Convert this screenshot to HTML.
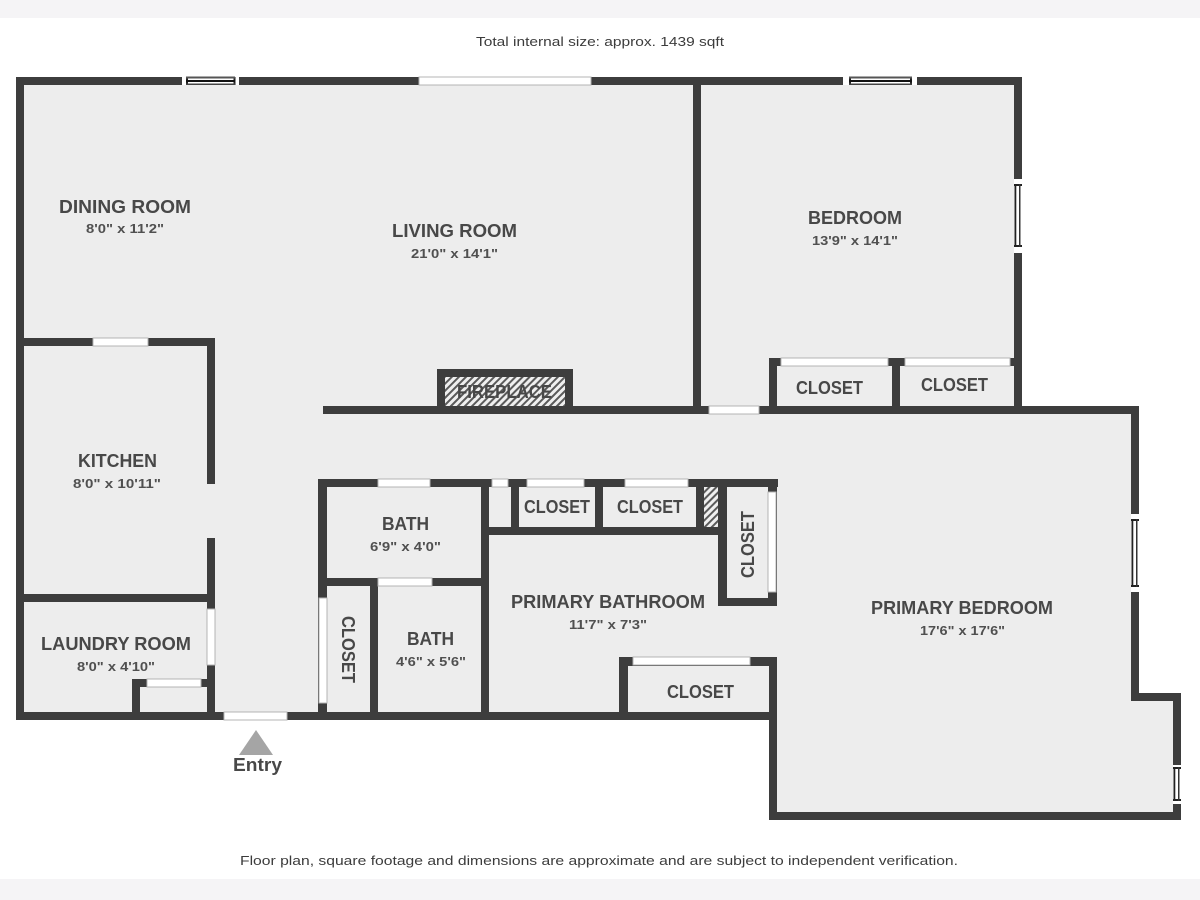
<!DOCTYPE html>
<html>
<head>
<meta charset="utf-8">
<style>
html,body{margin:0;padding:0;background:#fff}
svg{display:block}
text{font-family:"Liberation Sans",sans-serif;fill:#484848}
.n{font-size:18px;font-weight:bold;text-anchor:start}
.s{font-size:13px;font-weight:bold;text-anchor:start;fill:#505050}
.f{font-size:13px;fill:#3c3c3c}
.w{fill:#3d3d3d}
.o{fill:#fff;stroke:#b4b4b4;stroke-width:1}
</style>
</head>
<body>
<svg width="1200" height="900" viewBox="0 0 1200 900" xmlns="http://www.w3.org/2000/svg">
<defs>
<pattern id="h" width="5" height="5" patternUnits="userSpaceOnUse" patternTransform="rotate(45)">
<rect width="5" height="5" fill="#efefef"/>
<rect width="2" height="5" fill="#5a5a5a"/>
</pattern>
</defs>
<rect width="1200" height="900" fill="#fff"/>
<rect width="1200" height="18" fill="#f5f4f6"/>
<rect y="879" width="1200" height="21" fill="#f5f4f6"/>

<polygon points="16,77 1022,77 1022,406 1139,406 1139,693 1181,693 1181,820 769,820 769,720 16,720" fill="#ededed"/>

<g class="w">
<!-- outer -->
<rect x="16" y="77" width="1006" height="8"/>
<rect x="16" y="77" width="8" height="643"/>
<rect x="1014" y="77" width="8" height="337"/>
<rect x="693" y="77" width="8" height="337"/>
<rect x="323" y="406" width="816" height="8"/>
<rect x="1131" y="406" width="8" height="295"/>
<rect x="1131" y="693" width="50" height="8"/>
<rect x="1173" y="693" width="8" height="127"/>
<rect x="769" y="812" width="412" height="8"/>
<rect x="769" y="658" width="8" height="162"/>
<rect x="16" y="712" width="761" height="8"/>
<!-- kitchen / laundry -->
<rect x="16" y="338" width="199" height="8"/>
<rect x="207" y="338" width="8" height="146"/>
<rect x="207" y="538" width="8" height="182"/>
<rect x="16" y="594" width="199" height="8"/>
<rect x="132" y="679" width="8" height="41"/>
<rect x="132" y="679" width="80" height="8"/>
<!-- fireplace -->
<rect x="437" y="369" width="136" height="8"/>
<rect x="437" y="369" width="8" height="40"/>
<rect x="565" y="369" width="8" height="40"/>
<!-- bedroom closets -->
<rect x="769" y="358" width="8" height="50"/>
<rect x="892" y="358" width="8" height="50"/>
<rect x="769" y="358" width="245" height="8"/>
<!-- bath block -->
<rect x="318" y="479" width="460" height="8"/>
<rect x="318" y="479" width="9" height="241"/>
<rect x="481" y="479" width="8" height="241"/>
<rect x="318" y="578" width="171" height="8"/>
<rect x="370" y="578" width="8" height="142"/>
<rect x="511" y="479" width="8" height="56"/>
<rect x="595" y="479" width="8" height="56"/>
<rect x="696" y="479" width="8" height="56"/>
<rect x="481" y="527" width="245" height="8"/>
<rect x="718" y="479" width="9" height="127"/>
<rect x="768" y="479" width="9" height="127"/>
<rect x="718" y="598" width="59" height="8"/>
<!-- lower closet -->
<rect x="619" y="657" width="9" height="63"/>
<rect x="619" y="657" width="158" height="9"/>
</g>

<!-- hatches -->
<rect x="445" y="377" width="120" height="29" fill="url(#h)"/>
<rect x="704" y="487" width="14" height="40" fill="url(#h)"/>

<!-- openings -->
<g class="o">
<rect x="419" y="77" width="172" height="8"/>
<rect x="93" y="338" width="55" height="8"/>
<rect x="207" y="609" width="8" height="56"/>
<rect x="147" y="679" width="54" height="8"/>
<rect x="224" y="712" width="63" height="8"/>
<rect x="709" y="406" width="50" height="8"/>
<rect x="781" y="358" width="107" height="8"/>
<rect x="905" y="358" width="105" height="8"/>
<rect x="378" y="479" width="52" height="8"/>
<rect x="492" y="479" width="16" height="8"/>
<rect x="527" y="479" width="57" height="8"/>
<rect x="625" y="479" width="63" height="8"/>
<rect x="768" y="492" width="8" height="100"/>
<rect x="378" y="578" width="54" height="8"/>
<rect x="319" y="598" width="8" height="105"/>
<rect x="633" y="657" width="117" height="8"/>
</g>

<!-- framed windows -->
<g>
<!-- top left -->
<rect x="182" y="77" width="57" height="8" fill="#fff"/>
<rect x="186" y="77" width="2" height="8" fill="#222"/>
<rect x="233.500" y="77" width="2" height="8" fill="#222"/>
<rect x="186" y="76.500" width="49" height="2" fill="#555"/>
<rect x="186" y="80" width="49" height="2" fill="#111"/>
<rect x="186" y="83.500" width="49" height="1.500" fill="#444"/>
<!-- top right -->
<rect x="843" y="77" width="74" height="8" fill="#fff"/>
<rect x="849" y="77" width="2" height="8" fill="#222"/>
<rect x="910" y="77" width="2" height="8" fill="#222"/>
<rect x="849" y="76.500" width="63" height="2" fill="#555"/>
<rect x="849" y="80" width="63" height="2" fill="#111"/>
<rect x="849" y="83.500" width="63" height="1.500" fill="#444"/>
<!-- bedroom right -->
<rect x="1014" y="179" width="8" height="74" fill="#fff"/>
<rect x="1014" y="184" width="8" height="2" fill="#222"/>
<rect x="1014" y="245" width="8" height="2" fill="#222"/>
<rect x="1014.500" y="184" width="1.800" height="63" fill="#222"/>
<rect x="1019" y="184" width="1.500" height="63" fill="#333"/>
<!-- primary bedroom right -->
<rect x="1131" y="514" width="8" height="78" fill="#fff"/>
<rect x="1131" y="519" width="8" height="2" fill="#222"/>
<rect x="1131" y="585" width="8" height="2" fill="#222"/>
<rect x="1131.500" y="519" width="1.800" height="68" fill="#222"/>
<rect x="1136" y="519" width="1.500" height="68" fill="#333"/>
<!-- far right -->
<rect x="1173" y="765" width="8" height="39" fill="#fff"/>
<rect x="1173" y="767" width="8" height="2" fill="#222"/>
<rect x="1173" y="799" width="8" height="2" fill="#222"/>
<rect x="1173.500" y="767" width="1.800" height="34" fill="#222"/>
<rect x="1178" y="767" width="1.500" height="34" fill="#333"/>
</g>

<!-- entry -->
<polygon points="256,730 239,755 273,755" fill="#a5a5a5"/>
<text x="233" y="771" class="n" textLength="49" lengthAdjust="spacingAndGlyphs">Entry</text>

<!-- labels -->
<text x="59" y="213" class="n" textLength="132" lengthAdjust="spacingAndGlyphs">DINING ROOM</text>
<text x="86" y="233" class="s" textLength="78" lengthAdjust="spacingAndGlyphs">8'0" x 11'2"</text>
<text x="392" y="237" class="n" textLength="125" lengthAdjust="spacingAndGlyphs">LIVING ROOM</text>
<text x="411" y="258" class="s" textLength="87" lengthAdjust="spacingAndGlyphs">21'0" x 14'1"</text>
<text x="808" y="224" class="n" textLength="94" lengthAdjust="spacingAndGlyphs">BEDROOM</text>
<text x="812" y="245" class="s" textLength="86" lengthAdjust="spacingAndGlyphs">13'9" x 14'1"</text>
<text x="78" y="467" class="n" textLength="79" lengthAdjust="spacingAndGlyphs">KITCHEN</text>
<text x="73" y="488" class="s" textLength="88" lengthAdjust="spacingAndGlyphs">8'0" x 10'11"</text>
<text x="41" y="650" class="n" textLength="150" lengthAdjust="spacingAndGlyphs">LAUNDRY ROOM</text>
<text x="77" y="671" class="s" textLength="78" lengthAdjust="spacingAndGlyphs">8'0" x 4'10"</text>
<text x="796" y="394" class="n" textLength="67" lengthAdjust="spacingAndGlyphs">CLOSET</text>
<text x="921" y="391" class="n" textLength="67" lengthAdjust="spacingAndGlyphs">CLOSET</text>
<text x="457" y="398" class="n" textLength="95" lengthAdjust="spacingAndGlyphs">FIREPLACE</text>
<text x="524" y="513" class="n" textLength="66" lengthAdjust="spacingAndGlyphs">CLOSET</text>
<text x="617" y="513" class="n" textLength="66" lengthAdjust="spacingAndGlyphs">CLOSET</text>
<text x="382" y="530" class="n" textLength="47" lengthAdjust="spacingAndGlyphs">BATH</text>
<text x="370" y="551" class="s" textLength="71" lengthAdjust="spacingAndGlyphs">6'9" x 4'0"</text>
<text x="407" y="645" class="n" textLength="47" lengthAdjust="spacingAndGlyphs">BATH</text>
<text x="396" y="666" class="s" textLength="70" lengthAdjust="spacingAndGlyphs">4'6" x 5'6"</text>
<text x="511" y="608" class="n" textLength="194" lengthAdjust="spacingAndGlyphs">PRIMARY BATHROOM</text>
<text x="569" y="629" class="s" textLength="78" lengthAdjust="spacingAndGlyphs">11'7" x 7'3"</text>
<text x="871" y="614" class="n" textLength="182" lengthAdjust="spacingAndGlyphs">PRIMARY BEDROOM</text>
<text x="920" y="635" class="s" textLength="85" lengthAdjust="spacingAndGlyphs">17'6" x 17'6"</text>
<text x="667" y="698" class="n" textLength="67" lengthAdjust="spacingAndGlyphs">CLOSET</text>
<text transform="translate(754,578) rotate(-90)" class="n" textLength="67" lengthAdjust="spacingAndGlyphs">CLOSET</text>
<text transform="translate(342,616) rotate(90)" class="n" textLength="67" lengthAdjust="spacingAndGlyphs">CLOSET</text>

<text x="476" y="46" class="f" textLength="248" lengthAdjust="spacingAndGlyphs">Total internal size: approx. 1439 sqft</text>
<text x="240" y="865" class="f" textLength="718" lengthAdjust="spacingAndGlyphs">Floor plan, square footage and dimensions are approximate and are subject to independent verification.</text>
</svg>
</body>
</html>
